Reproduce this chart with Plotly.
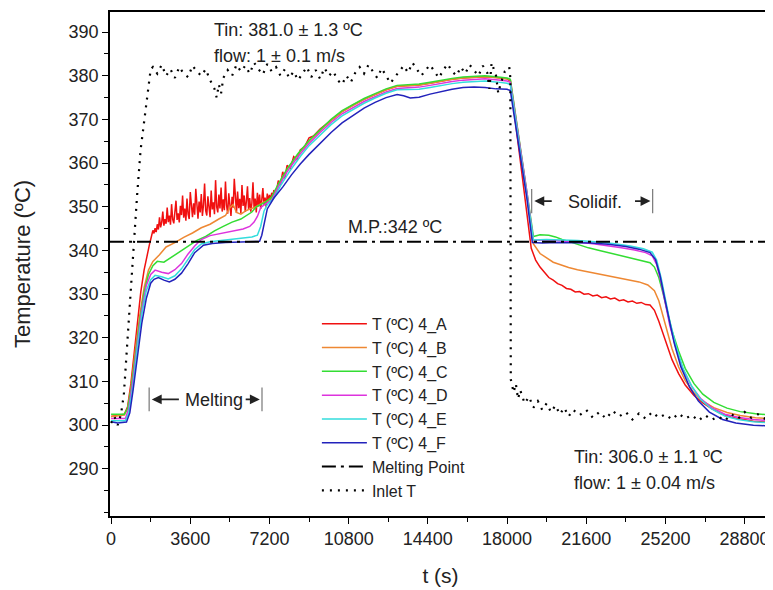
import plotly.graph_objects as go

# ---- data ----
t_a = ([0, 300, 600, 750, 900, 1050, 1200, 1350, 1500, 1650, 1750]
       + list(range(1800, 7400, 50))
       + [7400, 7500, 7600, 7700, 7800, 7900, 8000, 8150, 8300, 8450, 8600, 8800, 9000, 9200, 9500, 10000,
          10500, 11000, 11500, 12000, 12500, 13000, 13500, 14000, 14500, 15000, 15500, 16000, 16500, 17000,
          17500, 18000, 18150, 18400, 18700, 19100, 19300, 19500, 19700, 19900, 20100, 20300, 20500, 20700,
          20900, 21100, 21300, 21500, 21700, 21900, 22100, 22300, 22500, 22700, 22900, 23100, 23300, 23500,
          23700, 23900, 24100, 24300, 24500, 24700, 24900, 25100, 25300, 25500, 25800, 26100, 26500, 26900,
          27300, 27700, 28200, 28700, 29200, 30000])
temp_a = ([302, 302.3, 302.5, 304.2, 309.5, 316.5, 324, 330.5, 335.5, 339.5, 341.5]
          + [342.5, 343.8, 344.6, 343.9, 345.1, 344.2, 346.0, 344.8, 347.6, 345.3,
             346.4, 348.9, 345.7, 347.2, 346.1, 349.8, 346.5, 348.0, 345.9, 350.6,
             347.1, 346.2, 349.3, 351.4, 347.0, 348.5, 346.4, 350.2, 348.1, 352.6,
             347.5, 349.6, 346.8, 351.9, 348.3, 347.2, 353.4, 349.0, 347.6, 350.8,
             348.2, 354.1, 349.5, 347.3, 351.2, 348.7, 352.9, 347.9, 350.4, 355.3,
             349.1, 348.0, 352.4, 350.2, 347.6, 353.7, 349.4, 351.0, 348.3, 356.1,
             350.0, 348.7, 352.8, 349.6, 354.4, 348.9, 351.7, 349.2, 355.8, 350.3,
             348.4, 353.1, 350.7, 347.9, 352.3, 349.8, 356.4, 350.9, 348.6, 353.5,
             349.7, 351.8, 348.5, 355.0, 350.2, 352.6, 348.8, 351.3, 354.7, 349.4,
             352.0, 348.9, 350.8, 355.6, 349.6, 351.9, 348.7, 353.2, 350.1, 352.8,
             349.5, 351.6, 354.3, 350.4, 352.1, 349.9, 353.0, 351.2, 352.7, 351.5,
             353.2, 352.4]
          + [353.8, 353, 356, 355, 358, 356.5, 359.5, 358.8, 361.5, 360.8, 363, 363.8, 365.8, 366.2, 367.8,
             369.8, 371.8, 373.3, 374.6, 375.7, 376.8, 377.6, 377.8, 377.9, 378.3, 378.8, 379.2, 379.5, 379.7,
             379.8, 379.6, 379.3, 378.8, 369, 357, 340.5, 337.8, 336.2, 335, 333.8, 333.2, 332.4, 332, 331.3,
             331.1, 330.5, 330.6, 330, 330.1, 329.6, 329.8, 329.2, 329.4, 328.9, 329.1, 328.5, 328.7, 328.2,
             328.4, 327.9, 328.1, 327.6, 327.5, 326.3, 323.8, 320.8, 317.8, 315, 311.8, 309.2, 306.8, 305.1,
             303.8, 302.7, 301.8, 301.3, 300.9, 300.6])

t_b = [0, 600, 750, 900, 1100, 1300, 1500, 1700, 1900, 2200, 2500, 2900, 3300, 3700, 4100, 4500, 4900, 5200,
       5400, 5550, 5700, 5900, 6100, 6300, 6500, 6700, 6900, 7100, 7300, 7600, 8000, 8500, 9000, 9500, 10000,
       10500, 11000, 11500, 12000, 12500, 13000, 13500, 14000, 14500, 15000, 15500, 16000, 16500, 17000,
       17500, 18000, 18150, 18500, 18900, 19200, 19500, 19800, 20100, 20400, 20800, 21200, 21600, 22000,
       22500, 23000, 23500, 24000, 24400, 24700, 24900, 25100, 25300, 25500, 25800, 26100, 26500, 26900,
       27400, 28000, 28600, 29300, 30000]
temp_b = [302, 302.3, 303.8, 308.5, 317, 325, 331.5, 335.5, 337.5, 339, 340.8, 341.8, 343, 344, 345.2, 346,
          347.2, 348, 349.8, 350.5, 348.7, 348.3, 349, 349.5, 349.8, 350.3, 351, 351.3, 352, 355, 358.5, 362,
          365, 367.5, 369.8, 371.8, 373.3, 374.6, 375.7, 376.8, 377.6, 377.8, 377.9, 378.3, 378.8, 379.2,
          379.5, 379.7, 379.8, 379.6, 379.3, 379, 367, 353, 341.5, 339.3, 338.3, 337.3, 336.8, 336.1, 335.6,
          335.2, 334.8, 334.4, 333.9, 333.4, 332.8, 332.1, 330.8, 328.5, 324.8, 321, 317.5, 313.3, 310.2,
          307.4, 305.5, 304, 302.9, 302.2, 301.7, 301.5]

t_c = [0, 600, 750, 900, 1100, 1300, 1500, 1700, 1900, 2100, 2400, 2700, 3100, 3500, 3900, 4300, 4700, 5100,
       5500, 5900, 6200, 6400, 6600, 6800, 7000, 7300, 7600, 8000, 8500, 9000, 9500, 10000, 10500, 11000,
       11500, 12000, 12500, 13000, 13500, 14000, 14500, 15000, 15500, 16000, 16500, 17000, 17500, 18000,
       18150, 18500, 18900, 19200, 19500, 19900, 20200, 20500, 20900, 21300, 21700, 22200, 22700, 23200,
       23700, 24200, 24500, 24700, 24900, 25100, 25300, 25500, 25800, 26100, 26500, 26900, 27400, 28000,
       28600, 29300, 30000]
temp_c = [302.5, 302.5, 303.8, 308, 316, 324, 330.5, 334.5, 336.5, 337.5, 337.3, 338.3, 339.8, 341, 342.3,
          343.2, 344.5, 345.5, 346.5, 347.2, 348.2, 348.8, 350, 350.5, 351, 352.2, 355.2, 358.7, 362.2, 365.2,
          367.7, 370, 372, 373.5, 374.8, 375.9, 377, 377.8, 378, 378.1, 378.5, 379, 379.4, 379.7, 379.9, 380,
          379.8, 379.5, 379.2, 367.5, 354, 343.2, 343.6, 343.5, 343.1, 342.5, 341.9, 341.2, 340.6, 340,
          339.4, 338.8, 338.3, 337.7, 337.2, 336.2, 333.8, 330, 325.6, 321.6, 317, 313, 309.5, 307.1, 305.2,
          303.9, 303.1, 302.6, 302.3]

t_d = [0, 650, 800, 1000, 1200, 1400, 1600, 1800, 2000, 2300, 2600, 2900, 3200, 3500, 3800, 4100, 4500, 5000,
       5500, 6000, 6300, 6500, 6650, 6800, 7000, 7300, 7600, 8000, 8500, 9000, 9500, 10000, 10500, 11000,
       11500, 12000, 12500, 13000, 13500, 14000, 14500, 15000, 15500, 16000, 16500, 17000, 17500, 18000,
       18150, 18500, 18900, 19200, 19600, 20200, 20800, 21400, 22000, 22600, 23200, 23800, 24300, 24600,
       24800, 25000, 25200, 25400, 25700, 26000, 26400, 26800, 27300, 27900, 28500, 29200, 30000]
temp_d = [301.5, 301.5, 303.8, 310.5, 319, 326.5, 332, 334.5, 335.5, 335, 334.7, 335.6, 337, 339.2, 341, 342.5,
          343.4, 343.9, 344.4, 344.9, 345.5, 346.5, 347.8, 349.8, 350.6, 351.5, 354.5, 358, 361.5, 364.5,
          367, 369.3, 371.3, 372.8, 374.1, 375.2, 376.3, 377.1, 377.3, 377.4, 377.8, 378.3, 378.7, 379, 379.2,
          379.3, 379.1, 378.8, 378.5, 367, 353.5, 342.3, 342.4, 342.3, 342.1, 341.8, 341.5, 341.1, 340.6,
          340.1, 339.5, 338.8, 336.8, 332.8, 327.8, 322.8, 317.3, 312.8, 308.8, 306.1, 304, 302.5, 301.8,
          301.3, 301]

t_e = [0, 650, 800, 1000, 1200, 1400, 1600, 1800, 2000, 2300, 2600, 2900, 3200, 3500, 3800, 4100, 4500, 5000,
       5500, 6000, 6400, 6650, 6800, 6950, 7100, 7400, 7700, 8100, 8600, 9000, 9500, 10000, 10500, 11000,
       11500, 12000, 12500, 13000, 13500, 14000, 14500, 15000, 15500, 16000, 16500, 17000, 17500, 18000,
       18150, 18500, 18900, 19200, 19800, 20500, 21200, 22000, 22800, 23600, 24200, 24600, 24800, 25000,
       25200, 25400, 25700, 26000, 26400, 26800, 27300, 27900, 28500, 29200, 30000]
temp_e = [301, 301, 302.8, 309, 318, 325.5, 330.8, 333.3, 334.3, 334, 333.5, 334.2, 335.8, 338, 340.2,
          341.5, 342, 342.3, 342.6, 342.8, 343.1, 343.5, 345.5, 349, 350.5, 352, 354.8, 358, 361.5, 364,
          366.5, 368.8, 370.8, 372.3, 373.7, 374.9, 376, 376.8, 376.8, 376.9, 377.3, 377.8, 378.2, 378.5,
          378.7, 378.8, 378.6, 378.3, 378, 366.5, 353, 342.4, 342.5, 342.4, 342.3, 342, 341.6, 341, 340.4,
          339.6, 337.8, 333.8, 328.8, 323.8, 317.8, 313, 308.9, 305.9, 303.7, 302.1, 301.3, 300.8, 300.5]

t_f = [0, 300, 700, 850, 1000, 1200, 1400, 1600, 1800, 1950, 2150, 2400, 2650, 2900, 3200, 3500, 3800, 4200,
       4600, 5200, 5900, 6500, 6750, 6850, 6950, 7100, 7400, 7800, 8200, 8600, 9000, 9500, 10000, 10500,
       11000, 11500, 12000, 12500, 13000, 13300, 13600, 14000, 14500, 15000, 15500, 16000, 16500, 17000,
       17500, 18000, 18150, 18500, 18900, 19150, 19600, 20300, 21000, 21800, 22600, 23400, 24000, 24500,
       24750, 24950, 25150, 25350, 25600, 25900, 26300, 26700, 27200, 27800, 28400, 29200, 30000]
temp_f = [300.8, 300.5, 300.7, 302.8, 308, 316, 323.5, 329, 332.5, 333.4, 333.8, 333.2, 332.8, 333.4, 334.8,
          337, 339.5, 341.2, 341.6, 341.8, 341.9, 342, 342.1, 343.5, 346, 349.5, 352, 354.5, 357.3, 359.8,
          362, 364.6, 367, 369.2, 371, 372.6, 373.9, 375, 375.7, 375.4, 374.9, 375.1, 375.8, 376.4, 376.9,
          377.3, 377.4, 377.3, 377, 376.9, 376.6, 365, 352, 341.8, 341.7, 341.8, 341.8, 341.7, 341.4, 340.9,
          340.3, 339.5, 337.9, 334.4, 329.4, 324.4, 318.8, 313.4, 308.7, 305.5, 303, 301.3, 300.5, 300, 299.8]

t_inlet = [0, 150, 300, 450, 580, 730, 880, 1030, 1180, 1340, 1540, 1690, 1800, 1900, 2100, 2300, 2500, 2700,
           2900, 3100, 3300, 3500, 3700, 3900, 4100, 4300, 4500, 4700, 4800, 4900, 5000, 5100, 5300, 5500,
           5700, 5900, 6100, 6300, 6500, 6700, 6900, 7100, 7300, 7500, 7700, 7900, 8100, 8300, 8500, 8700,
           8900, 9100, 9300, 9500, 9700, 9900, 10100, 10300, 10500, 10700, 10900, 11100, 11300, 11500, 11700,
           11900, 12100, 12300, 12500, 12700, 12900, 13100, 13300, 13500, 13700, 13900, 14100, 14300, 14500,
           14700, 14900, 15100, 15300, 15500, 15700, 15900, 16100, 16300, 16500, 16700, 16900, 17100, 17200,
           17300, 17500, 17600, 17700, 17900, 18100, 18150, 18170, 18300, 18400, 18500, 18600, 18800, 19000,
           19200, 19400, 19600, 19800, 20000, 20200, 20400, 20600, 20800, 21000, 21300, 21600, 21900, 22200,
           22500, 22800, 23100, 23400, 23700, 24000, 24300, 24600, 24900, 25200, 25500, 25800, 26100, 26400,
           26700, 27000, 27300, 27600, 27900, 28200, 28500, 28800, 29100, 29400, 29700, 30000]
temp_inlet = [300.5, 302, 300, 302.5, 307, 319, 330.5, 341, 352.5, 363, 371.5, 377.5, 381.5, 382, 380.5, 382.5,
              380, 381.5, 379.5, 382, 380.5, 379.7, 382.3, 381, 380, 381.5, 379, 377, 375, 378, 376,
              379.5, 381.3, 380, 382.5, 381, 382.3, 380.5, 383, 381.5, 380.3, 382.7, 381, 382, 380, 381.5,
              379.5, 381, 379, 380.5, 382, 379.7, 381.3, 379.3, 381.8, 380, 381, 379, 378, 380, 378.5,
              380.7, 382, 380.5, 382.5, 381, 379.5, 381.7, 380, 378.3, 379.7, 381, 382.3, 380.7, 383, 381.5,
              380, 381.3, 382.5, 381, 379.5, 381.3, 382.7, 381, 380, 382, 380.5, 382.5, 381.3, 380, 382.3,
              380.7, 377, 383, 380, 376, 378, 381, 382, 379.5, 310.5, 307.5, 309.5, 306, 308, 305,
              306.5, 304, 305.5, 303.5, 305, 303, 304.5, 302.5, 304, 302, 303.5, 302.3, 303.5, 301.7, 303, 301.5,
              303.3, 302, 303, 301.3, 302.7, 301.5, 303, 301.7, 302.5, 301.3, 302.7, 301.5, 302.3, 301, 302.3,
              301.2, 302, 301, 302.5, 301.5, 303, 301.7, 302.5, 301.5, 302.5]

melting_point = 342
x_ticks = [0, 3600, 7200, 10800, 14400, 18000, 21600, 25200, 28800]
y_ticks = [290, 300, 310, 320, 330, 340, 350, 360, 370, 380, 390]

series = [
    ("T (ºC) 4_A", t_a, temp_a, "#f01010"),
    ("T (ºC) 4_B", t_b, temp_b, "#ee8833"),
    ("T (ºC) 4_C", t_c, temp_c, "#33dd33"),
    ("T (ºC) 4_D", t_d, temp_d, "#dd33dd"),
    ("T (ºC) 4_E", t_e, temp_e, "#33dddd"),
    ("T (ºC) 4_F", t_f, temp_f, "#2222bb"),
]

FONT = "'Liberation Sans', Arial, sans-serif"
TXT = "#222"
x_range = [-50, 30000]

fig = go.Figure()
for name, t, temp, color in series:
    fig.add_trace(go.Scatter(x=t, y=temp, mode="lines", name=name,
                             line=dict(color=color, width=1.5)))

fig.add_trace(go.Scatter(x=x_range, y=[melting_point, melting_point], mode="lines",
                         name="Melting Point",
                         line=dict(color="black", width=2, dash="14px,5px,3px,5px")))
fig.add_trace(go.Scatter(x=t_inlet, y=temp_inlet, mode="lines", name="Inlet T",
                         line=dict(color="black", width=2.2, dash="2px,6px")))

# text annotations
notes = [
    (4600, 390.5, "Tin: 381.0 ± 1.3 ºC"),
    (4600, 384.5, "flow: 1 ± 0.1 m/s"),
    (20950, 292.8, "Tin: 306.0 ± 1.1 ºC"),
    (20950, 286.8, "flow: 1 ± 0.04 m/s"),
]
for x, y, txt in notes:
    fig.add_annotation(x=x, y=y, text=txt, showarrow=False, xanchor="left",
                       font=dict(size=18, color=TXT, family=FONT))
fig.add_annotation(x=12900, y=345.3, text="M.P.:342 ºC", showarrow=False,
                   font=dict(size=18, color=TXT, family=FONT))
fig.add_annotation(x=4670, y=305.8, text="Melting", showarrow=False,
                   font=dict(size=18, color=TXT, family=FONT))
fig.add_annotation(x=21990, y=351.2, text="Solidif.", showarrow=False,
                   font=dict(size=18, color=TXT, family=FONT))

# phase markers: bars + arrows
for xb, y0, y1 in [(1730, 303.2, 308.6), (6860, 303.2, 308.6), (19120, 348.5, 354.1), (24620, 348.5, 354.1)]:
    fig.add_shape(type="line", x0=xb, x1=xb, y0=y0, y1=y1, line=dict(color="#777", width=1.2))
for tail, head, y in [(3150, 1850, 305.9), (6050, 6760, 305.9), (20100, 19240, 351.3), (23750, 24520, 351.3)]:
    fig.add_annotation(x=head, y=y, ax=tail, ay=y, axref="x", ayref="y", text="",
                       showarrow=True, arrowhead=2, arrowsize=1.1, arrowwidth=1.8, arrowcolor=TXT)

axis_common = dict(showline=True, linecolor="black", linewidth=1.5, mirror=True,
                   ticks="outside", ticklen=6, tickwidth=1.3, tickcolor="black",
                   showgrid=False, zeroline=False, automargin=False,
                   tickfont=dict(size=18, color=TXT, family=FONT))

fig.update_xaxes(range=x_range, tickvals=x_ticks, tickformat="d",
                 minor=dict(tickmode="linear", tick0=0, dtick=1800, ticklen=4, tickcolor="black", ticks="outside"),
                 title=dict(text="t (s)", font=dict(size=21, color=TXT, family=FONT), standoff=20),
                 **axis_common)
fig.update_yaxes(range=[279.2, 394.6], tickvals=y_ticks,
                 minor=dict(tickmode="linear", tick0=0, dtick=5, ticklen=4, tickcolor="black", ticks="outside"),
                 title=dict(text="Temperature (ºC)", font=dict(size=22, color=TXT, family=FONT), standoff=32),
                 **axis_common)

# the page puts the figure 8 px in from the top-left corner, so the figure is 8 px smaller
fig.update_layout(
    width=765, height=582,
    margin=dict(l=102, r=2, t=4, b=74),
    plot_bgcolor="white", paper_bgcolor="white",
    font=dict(family=FONT, color=TXT),
    legend=dict(x=0.313, y=0.415, xanchor="left", yanchor="top", bgcolor="rgba(0,0,0,0)",
                font=dict(size=16, color=TXT, family=FONT), itemwidth=45, tracegroupgap=0),
    showlegend=True,
)

fig.write_html("out.html", config={"displayModeBar": False})
